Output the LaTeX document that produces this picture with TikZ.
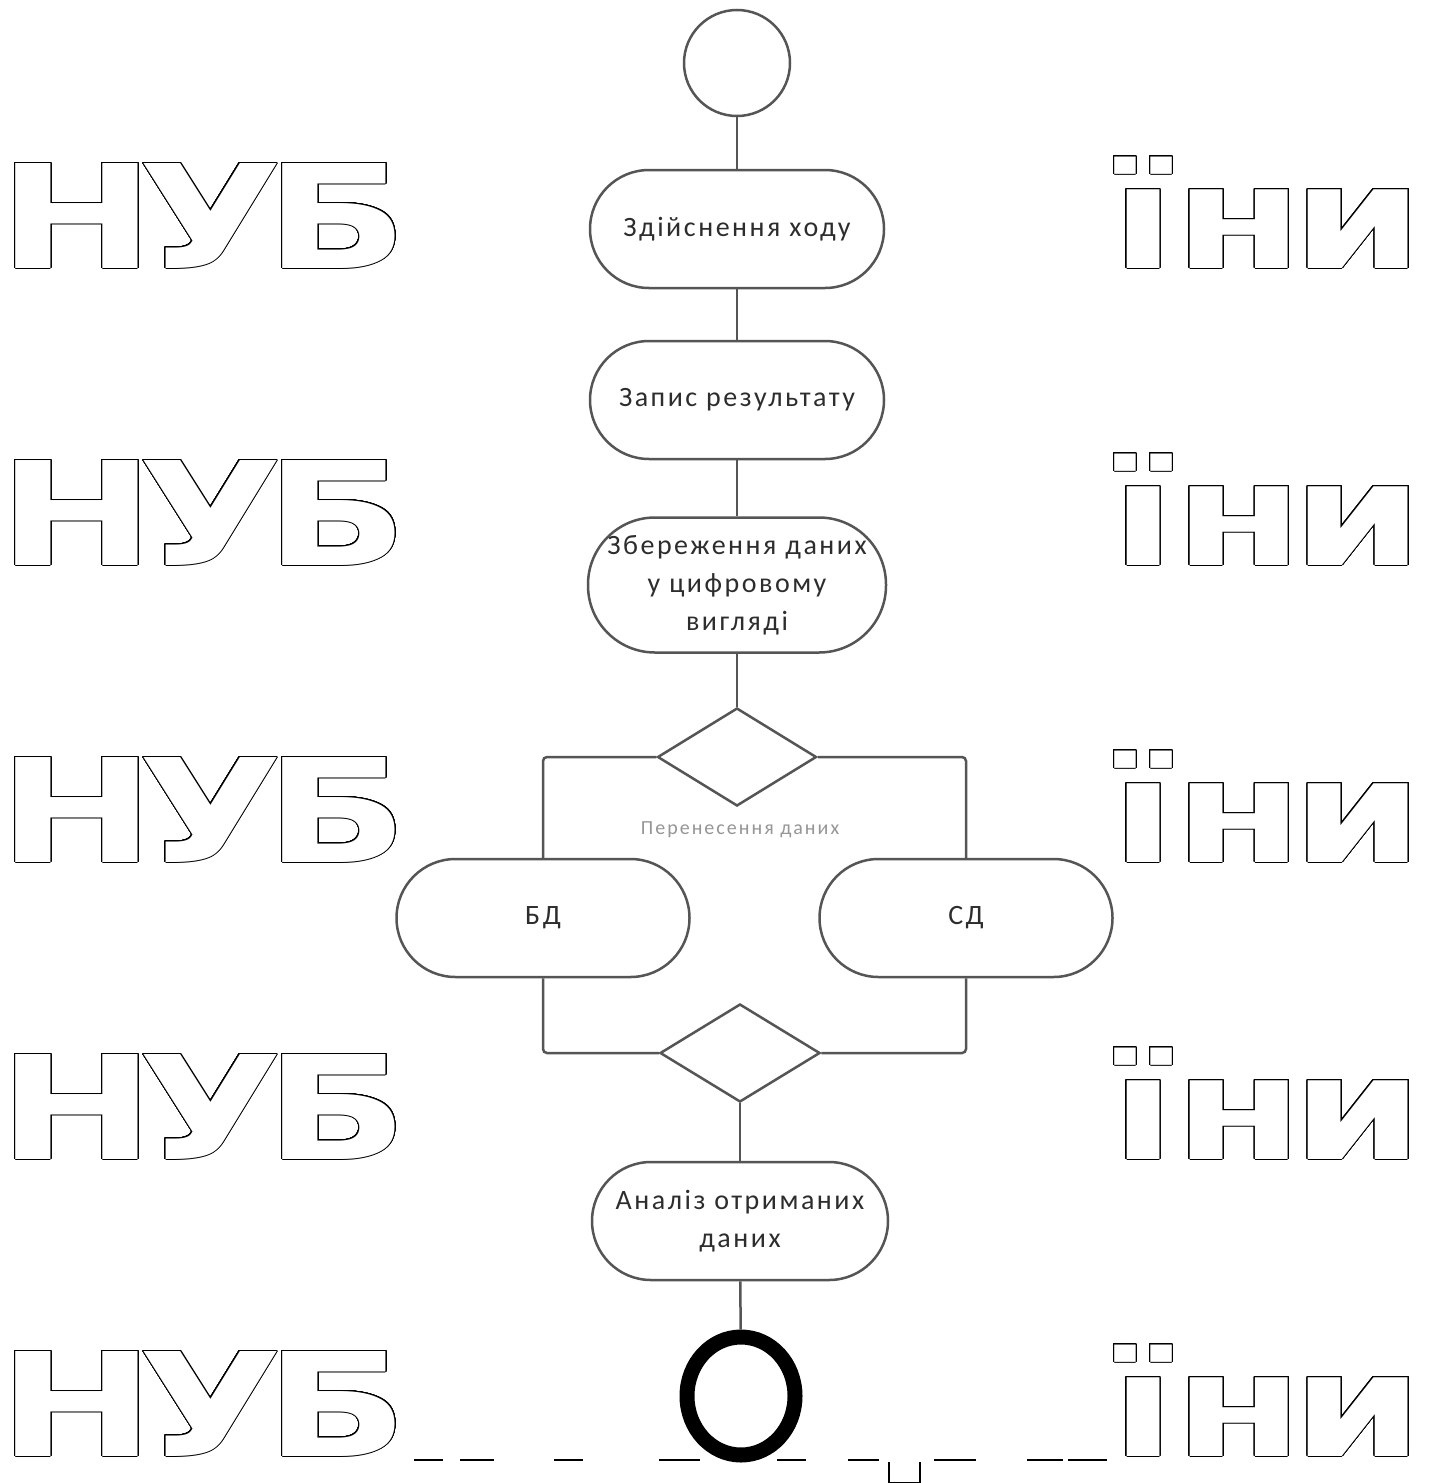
\documentclass[tikz,border=0pt]{standalone}
\usepackage{fontspec}
\setmainfont{Carlito}[LetterSpace=9]
\newfontfamily\wmfont{DejaVu Sans}[FakeStretch=1.3]
\usepackage[copies]{contour}
\contourlength{1pt}
\contournumber{32}
\usetikzlibrary{shapes.geometric}
\definecolor{ln}{RGB}{85,85,85}
\definecolor{tx}{RGB}{45,45,45}
\definecolor{lbl}{RGB}{150,150,150}
\tikzset{
  act/.style={draw=ln, line width=2.5pt, rounded corners=59pt, minimum width=294pt,
    minimum height=118pt, inner sep=0pt, align=center, text=tx,
    font=\fontsize{28}{38}\selectfont},
  dec/.style={draw=ln, line width=2.5pt, diamond, minimum width=159pt, minimum height=98pt, inner sep=0pt},
  conn/.style={draw=ln, line width=2.5pt},
  wm/.style={inner sep=0pt, font=\wmfont\bfseries\fontsize{144}{144}\selectfont},
  frag/.style={draw=black, line width=2pt},
}
\newcommand{\wmtext}[1]{\textcolor{white}{\contour{black}{#1}}}
\begin{document}
\begin{tikzpicture}[x=1pt,y=-1pt]
\useasboundingbox[fill=white] (0,0) rectangle (1429,1483);
% watermark fragments
\foreach \b [count=\i] in {268,565,862,1159,1456}{
  \node[wm, anchor=base west] (wl\i) at (-2,\b) {\wmtext{Н\kern-17pt У\kern-17pt Б}};
  \node[wm, anchor=base east] (wr\i) at (1424,\b) {\wmtext{ї\kern-1pt н\kern-11pt и}};
}
\foreach \xa/\xb [count=\i] in {414/443,460/494,554/583,659/700,777/806,848/879,934/976,1027/1063,1068/1107}{
  \coordinate (fa\i) at (\xa,1460);
  \coordinate (fb\i) at (\xb,1460);
  \draw[frag] (fa\i) -- (fb\i);
}
\coordinate (ua) at (889,1462);
\coordinate (ub) at (920,1462);
\draw[frag, line width=1.5pt] (ua) -- ++(0,21) -- ++(31,0) -- (ub);
% diagram
\node[draw=ln, line width=2.5pt, circle, minimum size=106pt, inner sep=0pt] (start) at (737,63) {};
\node[act] (a1) at (737,229) {Здійснення ходу};
\node[act] (a2) at (737,400) {Запис результату};
\node[act, minimum width=298pt, minimum height=135pt, rounded corners=67pt] (a3) at (737,585) {Збереження даних\\у цифровому\\вигляді};
\node[dec] (d1) at (737,757) {};
\node[inner sep=0pt, text=lbl, font=\fontsize{20}{22}\selectfont\addfontfeature{LetterSpace=10}] (lab) at (740,830) {Перенесення даних};
\node[act, minimum width=293pt] (bd) at (543,918) {БД};
\node[act, minimum width=293pt] (sd) at (966,918) {СД};
\node[dec, minimum width=160pt] (d2) at (740,1053) {};
\node[act, minimum width=296pt] (a4) at (740,1221) {Аналіз отриманих\\даних};
\node[draw=black, line width=15pt, ellipse, minimum width=108pt, minimum height=118pt, inner sep=0pt] (end) at (741,1396) {};
\draw[conn] (start) -- (a1);
\draw[conn] (a1) -- (a2);
\draw[conn] (a2) -- (a3);
\draw[conn] (a3) -- (d1);
\draw[conn, rounded corners=4pt] (d1.west) -| (bd.north);
\draw[conn, rounded corners=4pt] (d1.east) -| (sd.north);
\draw[conn, rounded corners=4pt] (bd.south) |- (d2.west);
\draw[conn, rounded corners=4pt] (sd.south) |- (d2.east);
\draw[conn] (d2) -- (a4);
\draw[conn] (a4) -- (end);
\end{tikzpicture}
\end{document}
